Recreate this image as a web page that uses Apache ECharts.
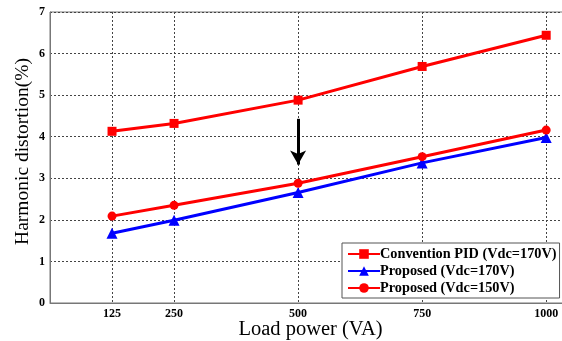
<!DOCTYPE html>
<html><head><meta charset="utf-8">
<script src="https://cdn.jsdelivr.net/npm/echarts@6/dist/echarts.min.js"></script>
<style>html,body{margin:0;padding:0;background:#fff}#c{width:562px;height:341px}</style>
</head><body><div id="c"></div>
<script>
const loadPower = [125, 250, 500, 750, 1000];
const pidVdc170 = [4.13, 4.32, 4.88, 5.69, 6.44];
const propVdc170 = [1.68, 1.99, 2.66, 3.37, 3.98];
const propVdc150 = [2.09, 2.35, 2.88, 3.52, 4.16];
const yTicks = [0, 1, 2, 3, 4, 5, 6, 7];
const seriesNames = ['Convention PID (Vdc=170V)', 'Proposed (Vdc=170V)', 'Proposed (Vdc=150V)'];
const arrowX = 500, arrowFrom = 4.43, arrowTo = 3.33;

const pairs = v => loadPower.map((x, i) => [x, v[i]]);
const serif = '"Liberation Serif","DejaVu Serif",serif';
const chart = echarts.init(document.getElementById('c'));
chart.setOption({
  animation: false,
  grid: { left: 50, top: 12, width: 521, height: 291, show: true, borderColor: '#777', borderWidth: 1,
          containLabel: false, outerBoundsMode: 'none' },
  legend: {
    orient: 'vertical', left: 342, top: 243, width: 218,
    backgroundColor: '#fff', borderColor: '#555', borderWidth: 1,
    padding: [4, 3, 3, 5], itemGap: 3, itemWidth: 32, itemHeight: 12,
    textStyle: { fontFamily: serif, fontWeight: 'bold', fontSize: 14.3, color: '#000', padding: [0, 0, 0, -5] },
    data: seriesNames
  },
  xAxis: {
    type: 'value', min: 0, max: 1050,
    name: 'Load power (VA)', nameLocation: 'middle', nameGap: 16, nameMoveOverlap: false,
    nameTextStyle: { fontFamily: serif, fontSize: 20.5, color: '#000', verticalAlign: 'top' },
    axisLine: { show: true, lineStyle: { color: '#777', width: 1 } },
    axisTick: { show: false, customValues: loadPower },
    axisLabel: { customValues: loadPower, formatter: v => String(v), fontFamily: serif, fontWeight: 'bold', fontSize: 12, color: '#000', margin: 5 },
    splitLine: { show: true, lineStyle: { color: '#444', type: [2, 2], width: 1 } }
  },
  yAxis: {
    type: 'value', min: 0, max: 7, interval: 1,
    name: 'Harmonic distortion(%)', nameLocation: 'middle', nameGap: 17, nameMoveOverlap: false,
    nameTextStyle: { fontFamily: serif, fontSize: 19.5, color: '#000', padding: [0, 0, 0, 12] },
    axisLine: { show: true, lineStyle: { color: '#777', width: 1 } },
    axisTick: { show: false },
    axisLabel: { customValues: yTicks, fontFamily: serif, fontWeight: 'bold', fontSize: 12, color: '#000', margin: 5 },
    splitLine: { show: true, lineStyle: { color: '#444', type: [2, 2], width: 1 } }
  },
  series: [
    { name: seriesNames[0], type: 'line', data: pairs(pidVdc170), symbol: 'rect', symbolSize: 9,
      lineStyle: { color: '#ff0000', width: 3 }, itemStyle: { color: '#ff0000' },
      markLine: { silent: true, symbolSize: [12, 14], label: { show: false },
        lineStyle: { color: '#000', width: 3, type: 'solid' },
        data: [[{ coord: [arrowX, arrowFrom], symbol: 'none' }, { coord: [arrowX, arrowTo], symbol: 'arrow' }]] } },
    { name: seriesNames[1], type: 'line', data: pairs(propVdc170), symbol: 'triangle', symbolSize: 11,
      lineStyle: { color: '#0000ff', width: 3 }, itemStyle: { color: '#0000ff' } },
    { name: seriesNames[2], type: 'line', data: pairs(propVdc150), symbol: 'circle', symbolSize: 9,
      lineStyle: { color: '#ff0000', width: 3 }, itemStyle: { color: '#ff0000' } }
  ]
});
</script></body></html>
